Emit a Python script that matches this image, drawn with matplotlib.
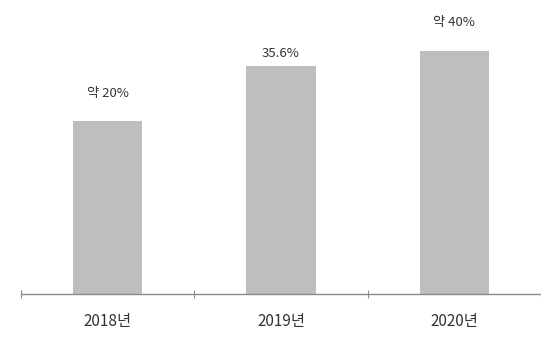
import matplotlib
matplotlib.use("Agg")
import matplotlib.pyplot as plt
import numpy as np

plt.rcParams['font.family'] = ['Noto Sans CJK KR', 'DejaVu Sans']

categories = ['2018년', '2019년', '2020년']
values = [20, 35.6, 40]
value_labels = ['약 20%', '35.6%', '약 40%']

base = -28.8  # visual baseline of the truncated axis

fig = plt.figure(figsize=(5.41, 3.38), dpi=100)
ax = fig.add_axes([21/541, 44/338, 520/541, 294/338])

x = np.arange(len(categories))
heights = np.array(values) - base
bars = ax.bar(x, heights, bottom=base, width=0.40, color='#bebebe', zorder=2)

label_offsets = [20, 9, 20]  # points above bar top
for xi, v, lab, off in zip(x, values, value_labels, label_offsets):
    ax.annotate(lab, (xi, v), xytext=(0, off), textcoords='offset points',
                ha='center', va='center', fontsize=9.5, color='#333333')

ax.set_xlim(-0.5, 2.5)
ax.set_ylim(base, base + 294/3.536)

for s in ['top', 'right', 'left']:
    ax.spines[s].set_visible(False)
ax.spines['bottom'].set_color('#8a8a8a')
ax.spines['bottom'].set_linewidth(1.0)
ax.set_yticks([])

ax.set_xticks([-0.5, 0.5, 1.5, 2.5])
ax.set_xticklabels([])
ax.tick_params(axis='x', direction='inout', length=6, width=0.8, color='#8a8a8a')
ax.set_xticks(x, minor=True)
ax.set_xticklabels(categories, minor=True, fontsize=11, color='#333333')
ax.tick_params(axis='x', which='minor', length=0, pad=14)

fig.savefig('out.png', dpi=100)
